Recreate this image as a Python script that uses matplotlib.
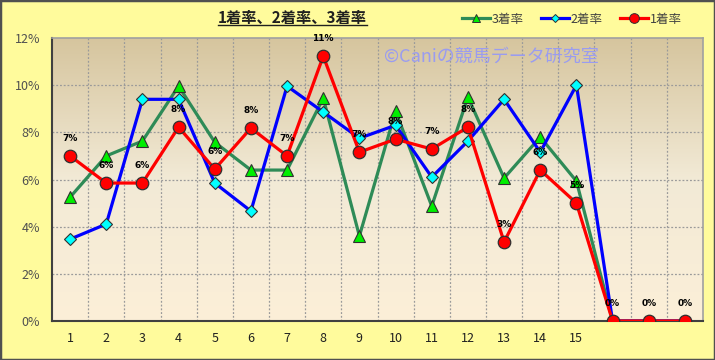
import matplotlib
matplotlib.use("Agg")
import matplotlib.pyplot as plt
import numpy as np
from matplotlib.lines import Line2D
from matplotlib.colors import LinearSegmentedColormap

plt.rcParams['font.family'] = ['Noto Sans CJK JP', 'DejaVu Sans']

categories = list(range(1, 19))
tick_labels = [str(i) for i in range(1, 16)]
rate1 = [7.0, 5.85, 5.85, 8.22, 6.44, 8.18, 7.0, 11.23, 7.16, 7.71, 7.29, 8.22, 3.35, 6.4, 5.0, 0, 0, 0]
rate2 = [3.47, 4.11, 9.4, 9.4, 5.85, 4.66, 9.96, 8.86, 7.75, 8.3, 6.1, 7.63, 9.4, 7.16, 10.0, 0, 0, 0]
rate3 = [5.25, 7.0, 7.63, 9.96, 7.58, 6.4, 6.4, 9.45, 3.6, 8.9, 4.87, 9.5, 6.06, 7.8, 5.93, 0, 0, 0]
labels1 = ["7%", "6%", "6%", "8%", "6%", "8%", "7%", "11%", "7%", "8%", "7%", "8%", "3%", "6%", "5%", "0%", "0%", "0%"]

fig = plt.figure(figsize=(7.15, 3.6), dpi=100)
fig.patch.set_facecolor('#FFFB9C')
fig.patches.append(plt.Rectangle((0, 0), 1, 1, transform=fig.transFigure, fill=False,
                                 edgecolor='#505050', linewidth=2.5, zorder=10))

ax = fig.add_axes([52/715, 1-321/360, (703-52)/715, (321-38)/360])
cmap = LinearSegmentedColormap.from_list('bg', ['#FCEFD8', '#F2EAD6', '#D6C59E'])
grad = np.linspace(0, 1, 256).reshape(-1, 1)
ax.imshow(grad, cmap=cmap, aspect='auto', origin='lower', extent=[0, 1, 0, 1],
          transform=ax.transAxes, zorder=0)

ax.set_xlim(0.5, 18.5)
ax.set_ylim(0, 12)

for y in [2, 4, 6, 8, 10]:
    ax.axhline(y, color='#9A9A9A', linestyle=(0, (1.5, 1.5)), linewidth=0.9, zorder=1)
for x in np.arange(1.5, 18.5, 1.0):
    ax.axvline(x, color='#9A9A9A', linestyle=(0, (1.5, 1.5)), linewidth=0.9, zorder=1)

ax.plot(categories, rate3, color='#2E8B57', linewidth=2.3, marker='^', markersize=8,
        markerfacecolor='#00EE00', markeredgecolor='#303030', markeredgewidth=0.8, zorder=3)
ax.plot(categories, rate2, color='#0000FF', linewidth=2.3, marker='D', markersize=6,
        markerfacecolor='#00FFFF', markeredgecolor='#303030', markeredgewidth=0.8, zorder=4)
ax.plot(categories, rate1, color='#FF0000', linewidth=2.3, marker='o', markersize=9,
        markerfacecolor='#FF0000', markeredgecolor='#303030', markeredgewidth=0.9, zorder=5)

for x, y, t in zip(categories, rate1, labels1):
    ax.annotate(t, (x, y), xytext=(0, 9.5), textcoords='offset points', ha='center', va='bottom',
                fontsize=6.5, fontweight='bold', color='black', family='DejaVu Sans', zorder=6)

ax.set_xticks(range(1, 16))
ax.set_xticklabels(tick_labels, fontsize=9, color='#202020')
ax.set_yticks([0, 2, 4, 6, 8, 10, 12])
ax.set_yticklabels(['0%', '2%', '4%', '6%', '8%', '10%', '12%'], fontsize=9, color='#505050')
ax.tick_params(axis='x', length=0, pad=8)
ax.tick_params(axis='y', length=0, pad=8.5)

for s in ['top', 'right']:
    ax.spines[s].set_color('#A0A0A0')
    ax.spines[s].set_linewidth(1.2)
for s in ['left', 'bottom']:
    ax.spines[s].set_color('#404040')
    ax.spines[s].set_linewidth(1.5)

ax.text(0.675, 0.935, '©Caniの競馬データ研究室', transform=ax.transAxes, ha='center', va='center',
        fontsize=13, color='#9A9CF0', zorder=2)

title = fig.text(292/715, 1-18/360, '1着率、2着率、3着率', ha='center', va='center',
                 fontsize=11, fontweight='bold', color='#202020')
fig.canvas.draw()
bb = title.get_window_extent(fig.canvas.get_renderer())
inv = fig.transFigure.inverted()
(x0, y0), (x1, y1) = inv.transform([[bb.x0, bb.y0], [bb.x1, bb.y1]])
fig.add_artist(Line2D([x0, x1], [y0 + 0.002, y0 + 0.002], transform=fig.transFigure,
                      color='#202020', linewidth=1.0))

handles = [
    Line2D([], [], color='#2E8B57', linewidth=2.3, marker='^', markersize=6,
           markerfacecolor='#00EE00', markeredgecolor='#303030', markeredgewidth=0.7),
    Line2D([], [], color='#0000FF', linewidth=2.3, marker='D', markersize=4.5,
           markerfacecolor='#00FFFF', markeredgecolor='#303030', markeredgewidth=0.7),
    Line2D([], [], color='#FF0000', linewidth=2.3, marker='o', markersize=7,
           markerfacecolor='#FF0000', markeredgecolor='#303030', markeredgewidth=0.7),
]
fig.legend(handles, ['3着率', '2着率', '1着率'], loc='center', bbox_to_anchor=(572/715, 1-19/360),
           ncol=3, frameon=False, fontsize=9, handlelength=2.2, handletextpad=0.15,
           columnspacing=1.4, labelcolor='#404040')

fig.savefig('out.png', dpi=100, facecolor=fig.get_facecolor())
